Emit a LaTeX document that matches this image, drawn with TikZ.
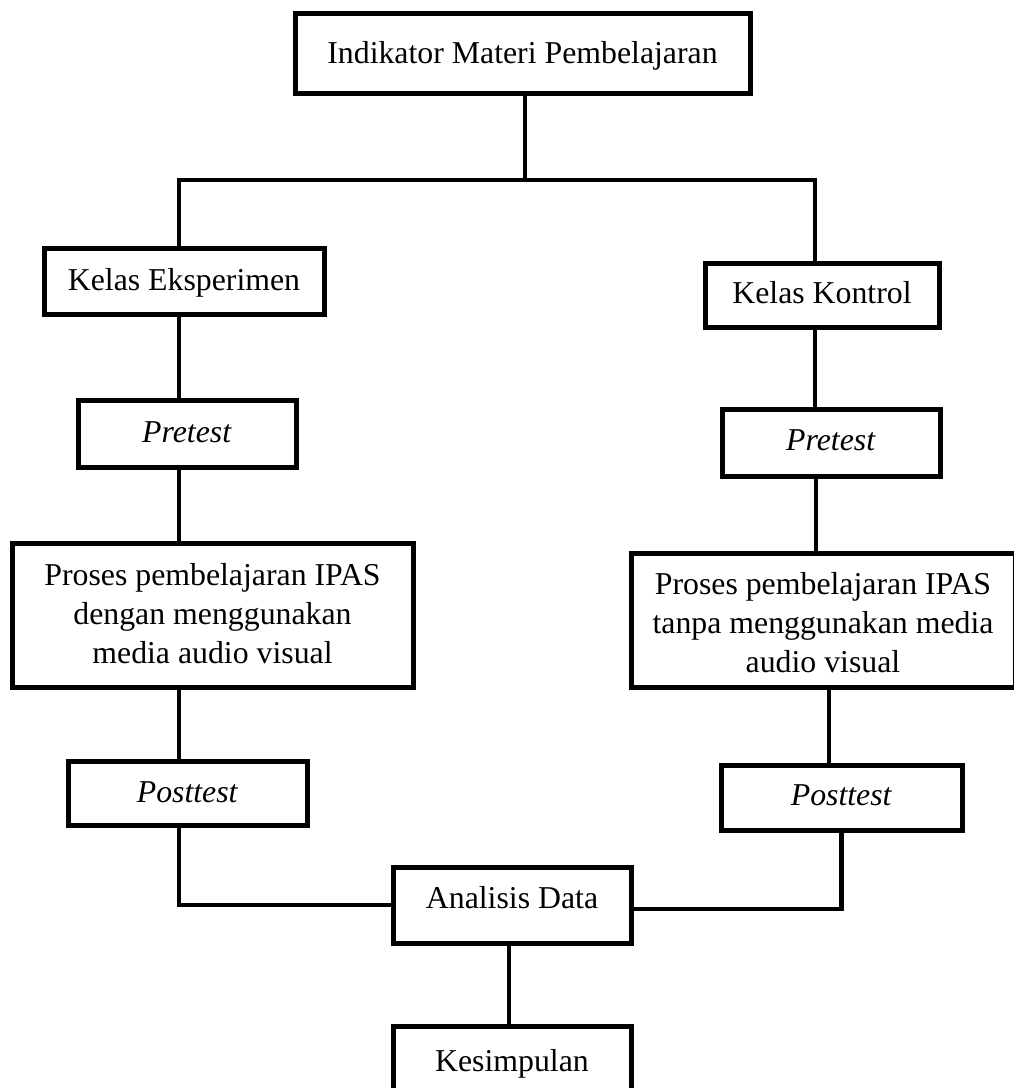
\documentclass[tikz,border=0pt]{standalone}
\usepackage{fontspec}
\setmainfont{Liberation Serif}
\begin{document}
\begin{tikzpicture}[x=1pt,y=-1pt]
\tikzset{
  box/.style={draw, line width=5pt, inner sep=0pt, text height=22pt,
    font=\fontsize{31.8}{39}\selectfont},
  conn/.style={line width=4.5pt}
}
\useasboundingbox (0,0) rectangle (1013,1088);
% boxes
\node[box, minimum width=455pt, minimum height=80pt, text depth=2pt] (top) at (522.5,53) {Indikator Materi Pembelajaran};
\node[box, minimum width=280pt, minimum height=66pt, text depth=4pt] (ke) at (184,281) {Kelas Eksperimen};
\node[box, minimum width=234pt, minimum height=64pt, text depth=6pt] (kk) at (822,295) {Kelas Kontrol};
\node[box, minimum width=218pt, minimum height=67pt, text depth=5pt] (pre1) at (187,433.5) {\textit{Pretest}};
\node[box, minimum width=218pt, minimum height=67pt, text depth=7pt] (pre2) at (831,442.5) {\textit{Pretest}};
\node[box, align=center, minimum width=401pt, minimum height=144pt, text height=104pt, text depth=8pt] (pro1) at (212.5,615) {Proses pembelajaran IPAS\\dengan menggunakan\\media audio visual};
\node[box, align=center, minimum width=384pt, minimum height=134pt, text height=108pt, text depth=4pt] (pro2) at (823,620) {Proses pembelajaran IPAS\\tanpa menggunakan media\\audio visual};
\node[box, minimum width=239pt, minimum height=64pt, text depth=4pt] (post1) at (187.5,793) {\textit{Posttest}};
\node[box, minimum width=241pt, minimum height=65pt, text depth=7pt] (post2) at (841.5,797.5) {\textit{Posttest}};
\node[box, minimum width=238pt, minimum height=76pt, text depth=16pt] (ana) at (512,905) {Analisis Data};
\node[box, minimum width=238pt, minimum height=68pt, text height=22pt, text depth=-2pt] (kes) at (512,1060) {Kesimpulan};
% junctions
\coordinate (hj) at (525,180);
\coordinate (hl) at (179,180);
\coordinate (hr) at (815,180);
% connectors
\draw[conn] (top.south -| hj) -- (hj);
\draw[conn] (hl |- ke.north) -- (hl) -- (hr) -- (hr |- kk.north);
\draw[conn] (hl |- ke.south) -- (hl |- pre1.north);
\draw[conn] (hl |- pre1.south) -- (hl |- pro1.north);
\draw[conn] (hl |- pro1.south) -- (hl |- post1.north);
\draw[conn] (hl |- post1.south) |- (ana.west);
\draw[conn] (hr |- kk.south) -- (hr |- pre2.north);
\draw[conn] ([xshift=1pt]hr |- pre2.south) -- ([xshift=1pt]hr |- pro2.north);
\draw[conn] ([xshift=6pt]pro2.south) -- ([xshift=6pt]pro2.south |- post2.north);
\draw[conn] (post2.south) |- ([yshift=-4pt]ana.east);
\draw[conn] ([xshift=-3pt]ana.south) -- ([xshift=-3pt]kes.north);
\end{tikzpicture}
\end{document}
